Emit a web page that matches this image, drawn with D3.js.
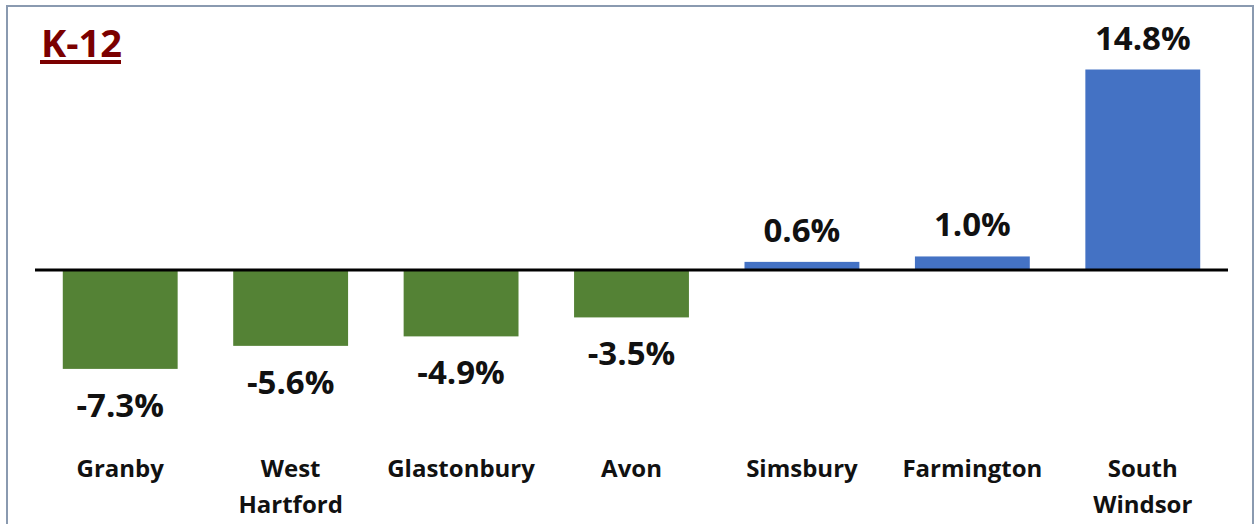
<!DOCTYPE html>
<html>
<head>
<meta charset="utf-8">
<script src="https://cdn.jsdelivr.net/npm/d3@7"></script>
<style>
  body { margin: 0; background: #fff; }
  text { font-family: "Open Sans", "Noto Sans", sans-serif; font-weight: bold; }
</style>
</head>
<body>
<div class="chart"></div>
<script>
// data
const towns = [['Granby'], ['West', 'Hartford'], ['Glastonbury'], ['Avon'], ['Simsbury'], ['Farmington'], ['South', 'Windsor']]
const change = [-7.3, -5.6, -4.9, -3.5, 0.6, 1.0, 14.8]
const title = 'K-12'

const width = 1255
const height = 524

const svg = d3.select('.chart')
  .append('svg')
  .attr('width', width)
  .attr('height', height)

// frame
svg.append('rect')
  .attr('x', 7).attr('y', 6)
  .attr('width', 1246).attr('height', 530)
  .attr('fill', 'none')
  .attr('stroke', '#8a9ab0')
  .attr('stroke-width', 2)

const data = towns.map((t, i) => ({ name: t, value: change[i] }))

const x = d3.scaleBand()
  .domain(d3.range(data.length))
  .range([35, 1228])
  .paddingInner(0.326)
  .paddingOuter(0.163)

// 0 at y=270, 14.8 at ~69.5
const y = d3.scaleLinear()
  .domain([0, 14.8])
  .range([270, 69.5])

svg.selectAll('.bar')
  .data(data)
  .enter()
  .append('rect')
  .attr('class', 'bar')
  .attr('x', (d, i) => x(i))
  .attr('width', x.bandwidth())
  .attr('y', d => Math.min(y(d.value), y(0)))
  .attr('height', d => Math.abs(y(d.value) - y(0)))
  .attr('fill', d => d.value < 0 ? '#548235' : '#4472c4')

// zero line
svg.append('line')
  .attr('x1', 35).attr('x2', 1228)
  .attr('y1', y(0)).attr('y2', y(0))
  .attr('stroke', '#000')
  .attr('stroke-width', 3)

// value labels
svg.selectAll('.val')
  .data(data)
  .enter()
  .append('text')
  .attr('class', 'val')
  .attr('x', (d, i) => x(i) + x.bandwidth() / 2)
  .attr('y', d => d.value < 0 ? y(d.value) + 48 : y(d.value) - 20)
  .attr('text-anchor', 'middle')
  .attr('font-size', 33)
  .attr('fill', '#111')
  .text(d => d.value.toFixed(1) + '%')

// category labels
const cat = svg.selectAll('.cat')
  .data(data)
  .enter()
  .append('text')
  .attr('class', 'cat')
  .attr('text-anchor', 'middle')
  .attr('font-size', 24)
  .attr('fill', '#111')
cat.selectAll('tspan')
  .data((d, i) => d.name.map(n => ({ n: n, i: i })))
  .enter()
  .append('tspan')
  .attr('x', d => x(d.i) + x.bandwidth() / 2)
  .attr('y', (d, j) => 477 + j * 36)
  .text(d => d.n)

// title
svg.append('text')
  .attr('x', 41)
  .attr('y', 57)
  .attr('font-size', 38)
  .attr('fill', '#7b0000')
  .text(title)
svg.append('rect')
  .attr('x', 40).attr('y', 60)
  .attr('width', 81).attr('height', 4)
  .attr('fill', '#7b0000')
</script>
</body>
</html>
